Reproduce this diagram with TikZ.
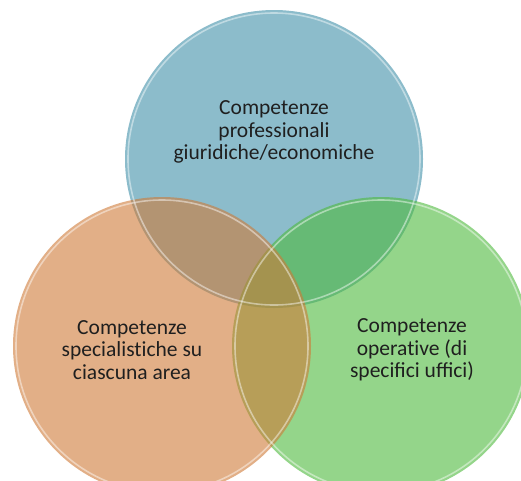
\documentclass[tikz,border=0pt]{standalone}
\usepackage{fontspec}
\setmainfont{Carlito}
\begin{document}
\begin{tikzpicture}[x=1pt,y=-1pt,
  disc/.style={circle,minimum size=298pt,inner sep=0pt,fill opacity=0.6,text opacity=1},
  rim/.style={draw=white,draw opacity=0.45,line width=1.6pt},
  lbl/.style={align=center,font=\fontsize{21.5}{22.5}\selectfont,text=black!88}]
\useasboundingbox (0,0) rectangle (521,480);
\clip (0,0) rectangle (521,480);
\definecolor{cblue}{RGB}{63,143,168}
\definecolor{corange}{RGB}{207,122,55}
\definecolor{cgreen}{RGB}{77,185,60}
\node[disc,fill=cblue] (top) at (274,159) {};
\node[disc,fill=cgreen] (right) at (381,346) {};
\node[disc,fill=corange] (left) at (162,346) {};
\draw[rim] (top.center) circle (146);
\draw[rim] (right.center) circle (146);
\draw[rim] (left.center) circle (146);
\node[lbl] (ttop) at (274,132) {Competenze\\professionali\\giuridiche/economiche};
\node[lbl] (tleft) at (132,350) {Competenze\\specialist\kern0pt iche su\\ciascuna area};
\node[lbl] (tright) at (412,350) {Competenze\\operat\kern0pt ive (di\\specifici uffici)};
\end{tikzpicture}
\end{document}
